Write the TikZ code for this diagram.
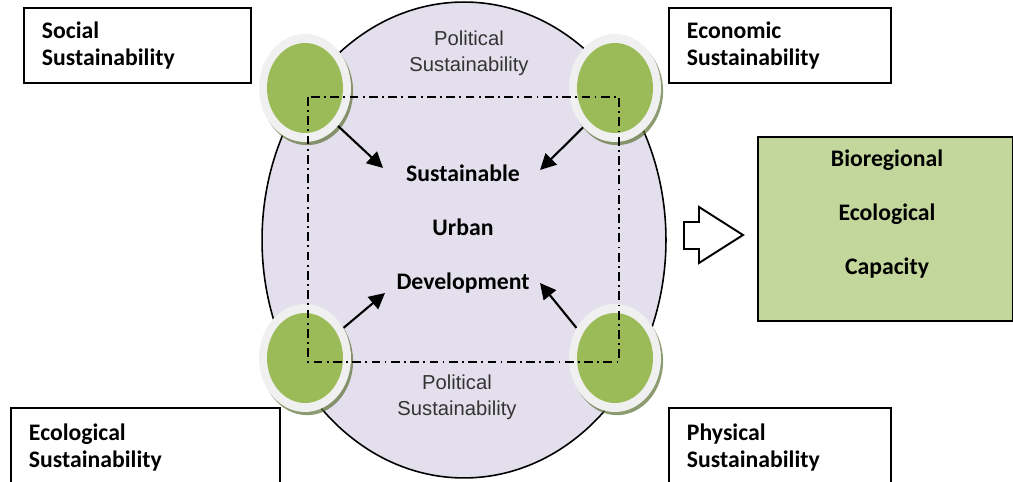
\documentclass[tikz,border=0pt]{standalone}
\usepackage{fontspec}
\setmainfont{Carlito}
\newfontfamily\arialfont{Liberation Sans}
\usetikzlibrary{positioning,shapes.geometric,arrows.meta,shadows}
\definecolor{hubfill}{HTML}{E4DFEC}
\definecolor{leafgreen}{HTML}{9BBB59}
\definecolor{ringgray}{HTML}{F0F0F0}
\definecolor{biofill}{HTML}{C3D69B}

\begin{document}
\begin{tikzpicture}[x=0.02cm,y=-0.02cm,
	every node/.style={font=\fontsize{13.5}{15.3}\selectfont\bfseries},
	box/.style={draw,line width=1.1pt,fill=white,anchor=north west,align=left,inner xsep=0.36cm,minimum height=1.5cm},
	ring/.style={ellipse,fill=ringgray,inner sep=0pt,minimum width=1.84cm,minimum height=2.16cm,
		drop shadow={shadow xshift=1.2pt,shadow yshift=-1.8pt,fill=black!40!leafgreen,opacity=0.7}},
	dot/.style={ellipse,fill=leafgreen,inner sep=0pt,minimum width=1.52cm,minimum height=1.8cm},
	pol/.style={font=\arialfont\fontsize{11.5}{14.7}\selectfont,text=black!80,align=center},
	push/.style={-{Triangle[length=9pt,width=9pt]},line width=1.2pt}]
	\useasboundingbox (0,0) rectangle (1013,482);

	% the four sustainability boxes
	\node[box,text width=3.82cm] (social) at (23,7) {Social\\Sustainability};
	\node[box,text width=3.72cm] (economic) at (668,7) {Economic\\Sustainability};
	\node[box,text width=4.66cm,minimum height=1.6cm] (ecological) at (10,407) {Ecological\\Sustainability};
	\node[box,text width=3.72cm,minimum height=1.6cm] (physical) at (668,407) {Physical\\Sustainability};

	% the big ellipse
	\node[draw,ellipse,fill=hubfill,line width=0.9pt,inner sep=0pt,minimum width=8.08cm,minimum height=9.52cm] (hub) at (464,240) {};
	\node[pol] (poltop) at (469,53) {Political\\Sustainability};
	\node[pol] (polbottom) at (457,397) {Political\\Sustainability};
	\node[font=\fontsize{13.5}{30.6}\selectfont\bfseries,align=center] (sud) at (463,229) {Sustainable\\Urban\\Development};

	% green circles
	\node[ring] (socring) at (305,88) {};
	\node[dot] (socdot) at (305,88) {};
	\node[ring] (ecoring) at (615,88) {};
	\node[dot] (ecodot) at (615,88) {};
	\node[ring] (ecolring) at (305,358) {};
	\node[dot] (ecoldot) at (305,358) {};
	\node[ring] (physring) at (615,358) {};
	\node[dot] (physdot) at (615,358) {};

	\draw[line width=0.9pt,dash pattern=on 5pt off 2.5pt on 1pt off 2.5pt] (308,97) rectangle (619,362);

	\coordinate (tlend) at (383,168);
	\coordinate (trend) at (540,170);
	\coordinate (blend) at (385,293);
	\coordinate (brend) at (540,283);
	\draw[push] (socring.-49) -- (tlend);
	\draw[push] (ecoring.-129) -- (trend);
	\draw[push] (ecolring.38) -- (blend);
	\draw[push] (physring.142) -- (brend);

	% block arrow and result
	\draw[line width=1.1pt,fill=white] (684,222) -- (699,222) -- (699,207) -- (743,235) -- (699,263) -- (699,249) -- (684,249) -- cycle;
	\node[draw,line width=1.1pt,fill=biofill,minimum width=5.1cm,minimum height=3.68cm] (bio) at (885,229) {};
	\node[font=\fontsize{13.5}{30.6}\selectfont\bfseries,align=center] (biotext) at (887,214) {Bioregional\\Ecological\\Capacity};
\end{tikzpicture}
\end{document}
